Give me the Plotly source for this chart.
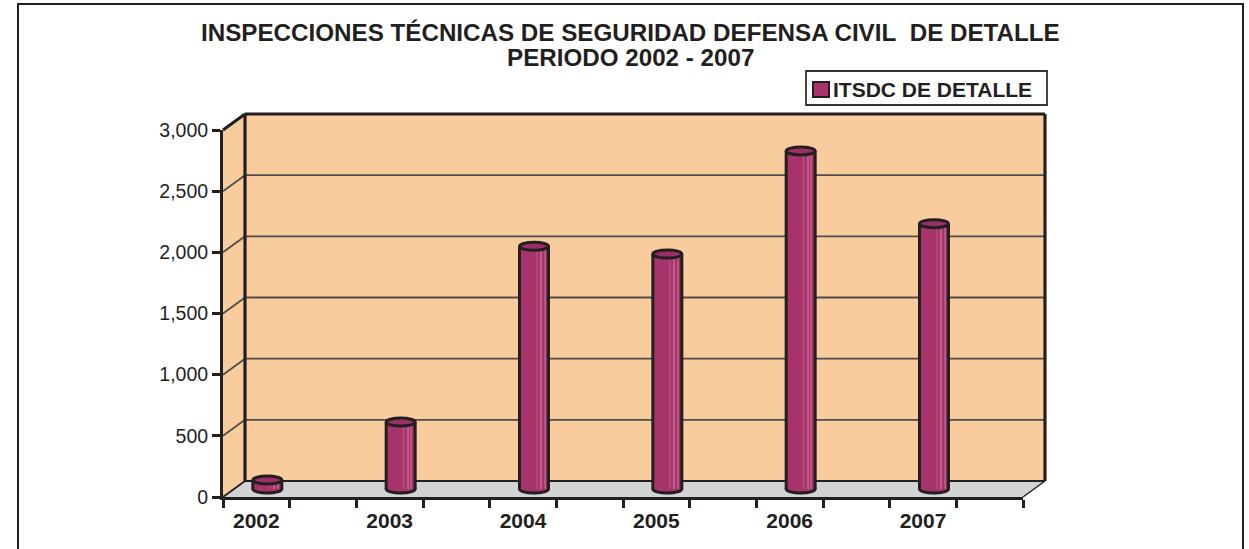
import plotly.graph_objects as go

# ---------------- data ----------------
years = ["2002", "2003", "2004", "2005", "2006", "2007"]
itsdc = [73, 547, 1984, 1921, 2763, 2169]
series_name = "ITSDC DE DETALLE"
title_l1 = "INSPECCIONES TÉCNICAS DE SEGURIDAD DEFENSA CIVIL\u00a0 DE DETALLE"
title_l2 = "PERIODO 2002 - 2007"
y_ticks = [0, 500, 1000, 1500, 2000, 2500, 3000]

# ---------------- geometry / style ----------------
W, H = 1249, 549
def px(x): return x / W
def py(y): return 1 - y / H

FX0, FX1 = 223, 1023          # front plane x extent (px)
FY0 = 497                     # front plane y of value 0 (px)
YMAX = 3000
S = 367 / YMAX                # px per unit
DX, DY = 22, -16              # depth offset to back wall
BX0, BX1 = FX0 + DX, FX1 + DX
BY0 = FY0 + DY
MX0, MX1 = FX0 + DX / 2, FX1 + DX / 2   # mid plane (bars)
MY0 = FY0 + DY / 2

n_slots = 2 * len(years)
slot_px = (FX1 - FX0) / n_slots
xpos = [2 * i for i in range(len(years))]

INK = "#231F20"
WALL = "#F8CC9C"
FLOOR = "#D2D3D5"
GRID = "#4D4D4D"
BAR = "#A8336A"
BAR_TOP = "#9A3063"

def fy(v): return FY0 - v * S
def by(v): return BY0 - v * S

hw = 14.5 / slot_px           # half bar width in x units
eh = 4.0 / S                  # ellipse half height in y units

shapes = []
# side wall
shapes.append(dict(type="path", xref="paper", yref="paper", layer="below",
                   path=f"M {px(FX0)},{py(fy(0))} L {px(BX0)},{py(by(0))} L {px(BX0)},{py(by(YMAX))} L {px(FX0)},{py(fy(YMAX))} Z",
                   fillcolor=WALL, line=dict(width=0)))
# back wall
shapes.append(dict(type="rect", xref="paper", yref="paper", layer="below",
                   x0=px(BX0), x1=px(BX1), y0=py(by(0)), y1=py(by(YMAX)),
                   fillcolor=WALL, line=dict(width=0)))
# floor
shapes.append(dict(type="path", xref="paper", yref="paper", layer="below",
                   path=f"M {px(FX0)},{py(fy(0))} L {px(BX0)},{py(by(0))} L {px(BX1)},{py(by(0))} L {px(FX1)},{py(fy(0))} Z",
                   fillcolor=FLOOR, line=dict(width=0)))
# gridlines on back wall and side wall
for v in y_ticks:
    if 0 < v < YMAX:
        shapes.append(dict(type="line", xref="paper", yref="paper", layer="below",
                           x0=px(BX0), x1=px(BX1), y0=py(by(v)), y1=py(by(v)),
                           line=dict(color=GRID, width=1.8)))
    w = 3 if v == YMAX else 1.8
    c = INK if v in (0, YMAX) else GRID
    shapes.append(dict(type="line", xref="paper", yref="paper", layer="below",
                       x0=px(FX0), x1=px(BX0), y0=py(fy(v)), y1=py(by(v)),
                       line=dict(color=c, width=w)))
# back wall outline
for (x0, y0, x1, y1, w) in [(BX0, by(0), BX0, by(YMAX), 3.2),
                            (BX0, by(YMAX), BX1, by(YMAX), 3.2),
                            (BX1, by(YMAX), BX1, by(0), 3.2),
                            (BX0, by(0), BX1, by(0), 2.2),
                            (FX1, fy(0), BX1, by(0), 1.5)]:
    shapes.append(dict(type="line", xref="paper", yref="paper", layer="below",
                       x0=px(x0), x1=px(x1), y0=py(y0), y1=py(y1),
                       line=dict(color=INK, width=w)))
# outer frame
shapes.append(dict(type="path", xref="paper", yref="paper", layer="below",
                   path=f"M {px(18)},{py(570)} L {px(18)},{py(4)} L {px(1243)},{py(4)} L {px(1243)},{py(570)}",
                   line=dict(color=INK, width=2)))

# cylinders: bottom ellipse, side lines, top ellipse
for x, v in zip(xpos, itsdc):
    shapes.append(dict(type="circle", xref="x", yref="y", layer="between",
                       x0=x - hw, x1=x + hw, y0=-eh, y1=eh,
                       fillcolor=BAR, line=dict(color=INK, width=3)))
    for sx in (x - hw, x + hw):
        shapes.append(dict(type="line", xref="x", yref="y", layer="above",
                           x0=sx, x1=sx, y0=0, y1=v, line=dict(color=INK, width=3)))
    shapes.append(dict(type="circle", xref="x", yref="y", layer="above",
                       x0=x - hw, x1=x + hw, y0=v - eh, y1=v + eh,
                       fillcolor=BAR_TOP, line=dict(color=INK, width=3)))

# legend (manual)
shapes.append(dict(type="rect", xref="paper", yref="paper", layer="above",
                   x0=px(806), x1=px(1047), y0=py(105), y1=py(71),
                   fillcolor="white", line=dict(color="#333333", width=1.8)))
shapes.append(dict(type="rect", xref="paper", yref="paper", layer="above",
                   x0=px(813), x1=px(829), y0=py(97), y1=py(82),
                   fillcolor=BAR, line=dict(color=INK, width=2)))

fig = go.Figure()
fig.add_trace(go.Bar(x=xpos, y=itsdc, width=[2 * hw] * len(xpos), name=series_name,
                     marker=dict(color=BAR, line=dict(width=0)), hoverinfo="x+y",
                     xaxis="x", yaxis="y"))
# lighter vertical stripes on the right side of each cylinder
for off_px, w_px, col in [(1.5, 2.5, "#B0457A"), (6.5, 1.6, "#BD5F8B"),
                          (10.0, 1.6, "#B45582"), (12.0, 2.5, "#96315F")]:
    fig.add_trace(go.Bar(x=xpos, y=itsdc, width=[w_px / slot_px] * len(xpos),
                         offset=off_px / slot_px, marker=dict(color=col, line=dict(width=0)),
                         hoverinfo="skip", showlegend=False, xaxis="x", yaxis="y"))
# invisible trace carrying the front-plane axes
fig.add_trace(go.Scatter(x=xpos, y=itsdc, mode="markers", marker=dict(opacity=0),
                         hoverinfo="skip", showlegend=False, xaxis="x2", yaxis="y2"))

FONT = "Liberation Sans, Arial, sans-serif"
annotations = [
    dict(xref="paper", yref="paper", x=px(630.5), y=py(32), text=title_l1, showarrow=False,
         xanchor="center", yanchor="middle", font=dict(family=FONT, size=24.2, color=INK, weight="bold")),
    dict(xref="paper", yref="paper", x=px(630.5), y=py(57), text=title_l2, showarrow=False,
         xanchor="center", yanchor="middle", font=dict(family=FONT, size=24.2, color=INK, weight="bold")),
    dict(xref="paper", yref="paper", x=px(831), y=py(89), text=series_name, showarrow=False,
         xanchor="left", yanchor="middle", font=dict(family=FONT, size=21, color=INK, weight="bold")),
]

ymin, ymax = -300, 3300
fig.update_layout(
    width=W, height=H, margin=dict(l=0, r=0, t=0, b=0),
    paper_bgcolor="white", plot_bgcolor="rgba(0,0,0,0)",
    barmode="overlay", showlegend=False, bargap=0,
    shapes=shapes, annotations=annotations,
    font=dict(family=FONT, color=INK),
    xaxis=dict(domain=[px(MX0), px(MX1)], range=[-0.5, n_slots - 0.5], visible=False,
               anchor="y", fixedrange=True),
    yaxis=dict(domain=[py(MY0 - ymin * S), py(MY0 - ymax * S)], range=[ymin, ymax],
               visible=False, anchor="x", fixedrange=True),
    xaxis2=dict(domain=[px(FX0), px(FX1)], range=[-0.5, n_slots - 0.5], anchor="y2",
                tickmode="array", tickvals=xpos, ticktext=years, ticks="",
                showline=True, linecolor=INK, linewidth=3, showgrid=False, zeroline=False,
                tickfont=dict(family=FONT, size=21, color=INK, weight="bold"),
                ticklabelstandoff=3,
                minor=dict(ticks="outside", ticklen=8, tickwidth=2.5, tickcolor=INK,
                           tickmode="linear", tick0=-0.5, dtick=1, showgrid=False),
                automargin=False, fixedrange=True),
    yaxis2=dict(domain=[py(fy(0)), py(fy(YMAX))], range=[0, YMAX], anchor="x2",
                tickmode="array", tickvals=y_ticks, tickformat=",", ticks="outside",
                ticklen=8, tickwidth=2.5, tickcolor=INK,
                showline=True, linecolor=INK, linewidth=3, showgrid=False, zeroline=False,
                tickfont=dict(family=FONT, size=19.5, color=INK),
                automargin=False, fixedrange=True),
)

# remove the page's default 8px body margin so the figure sits at the window origin
fig.write_html("out.html", config={"displayModeBar": False},
               post_script="document.body.style.margin='0';")
